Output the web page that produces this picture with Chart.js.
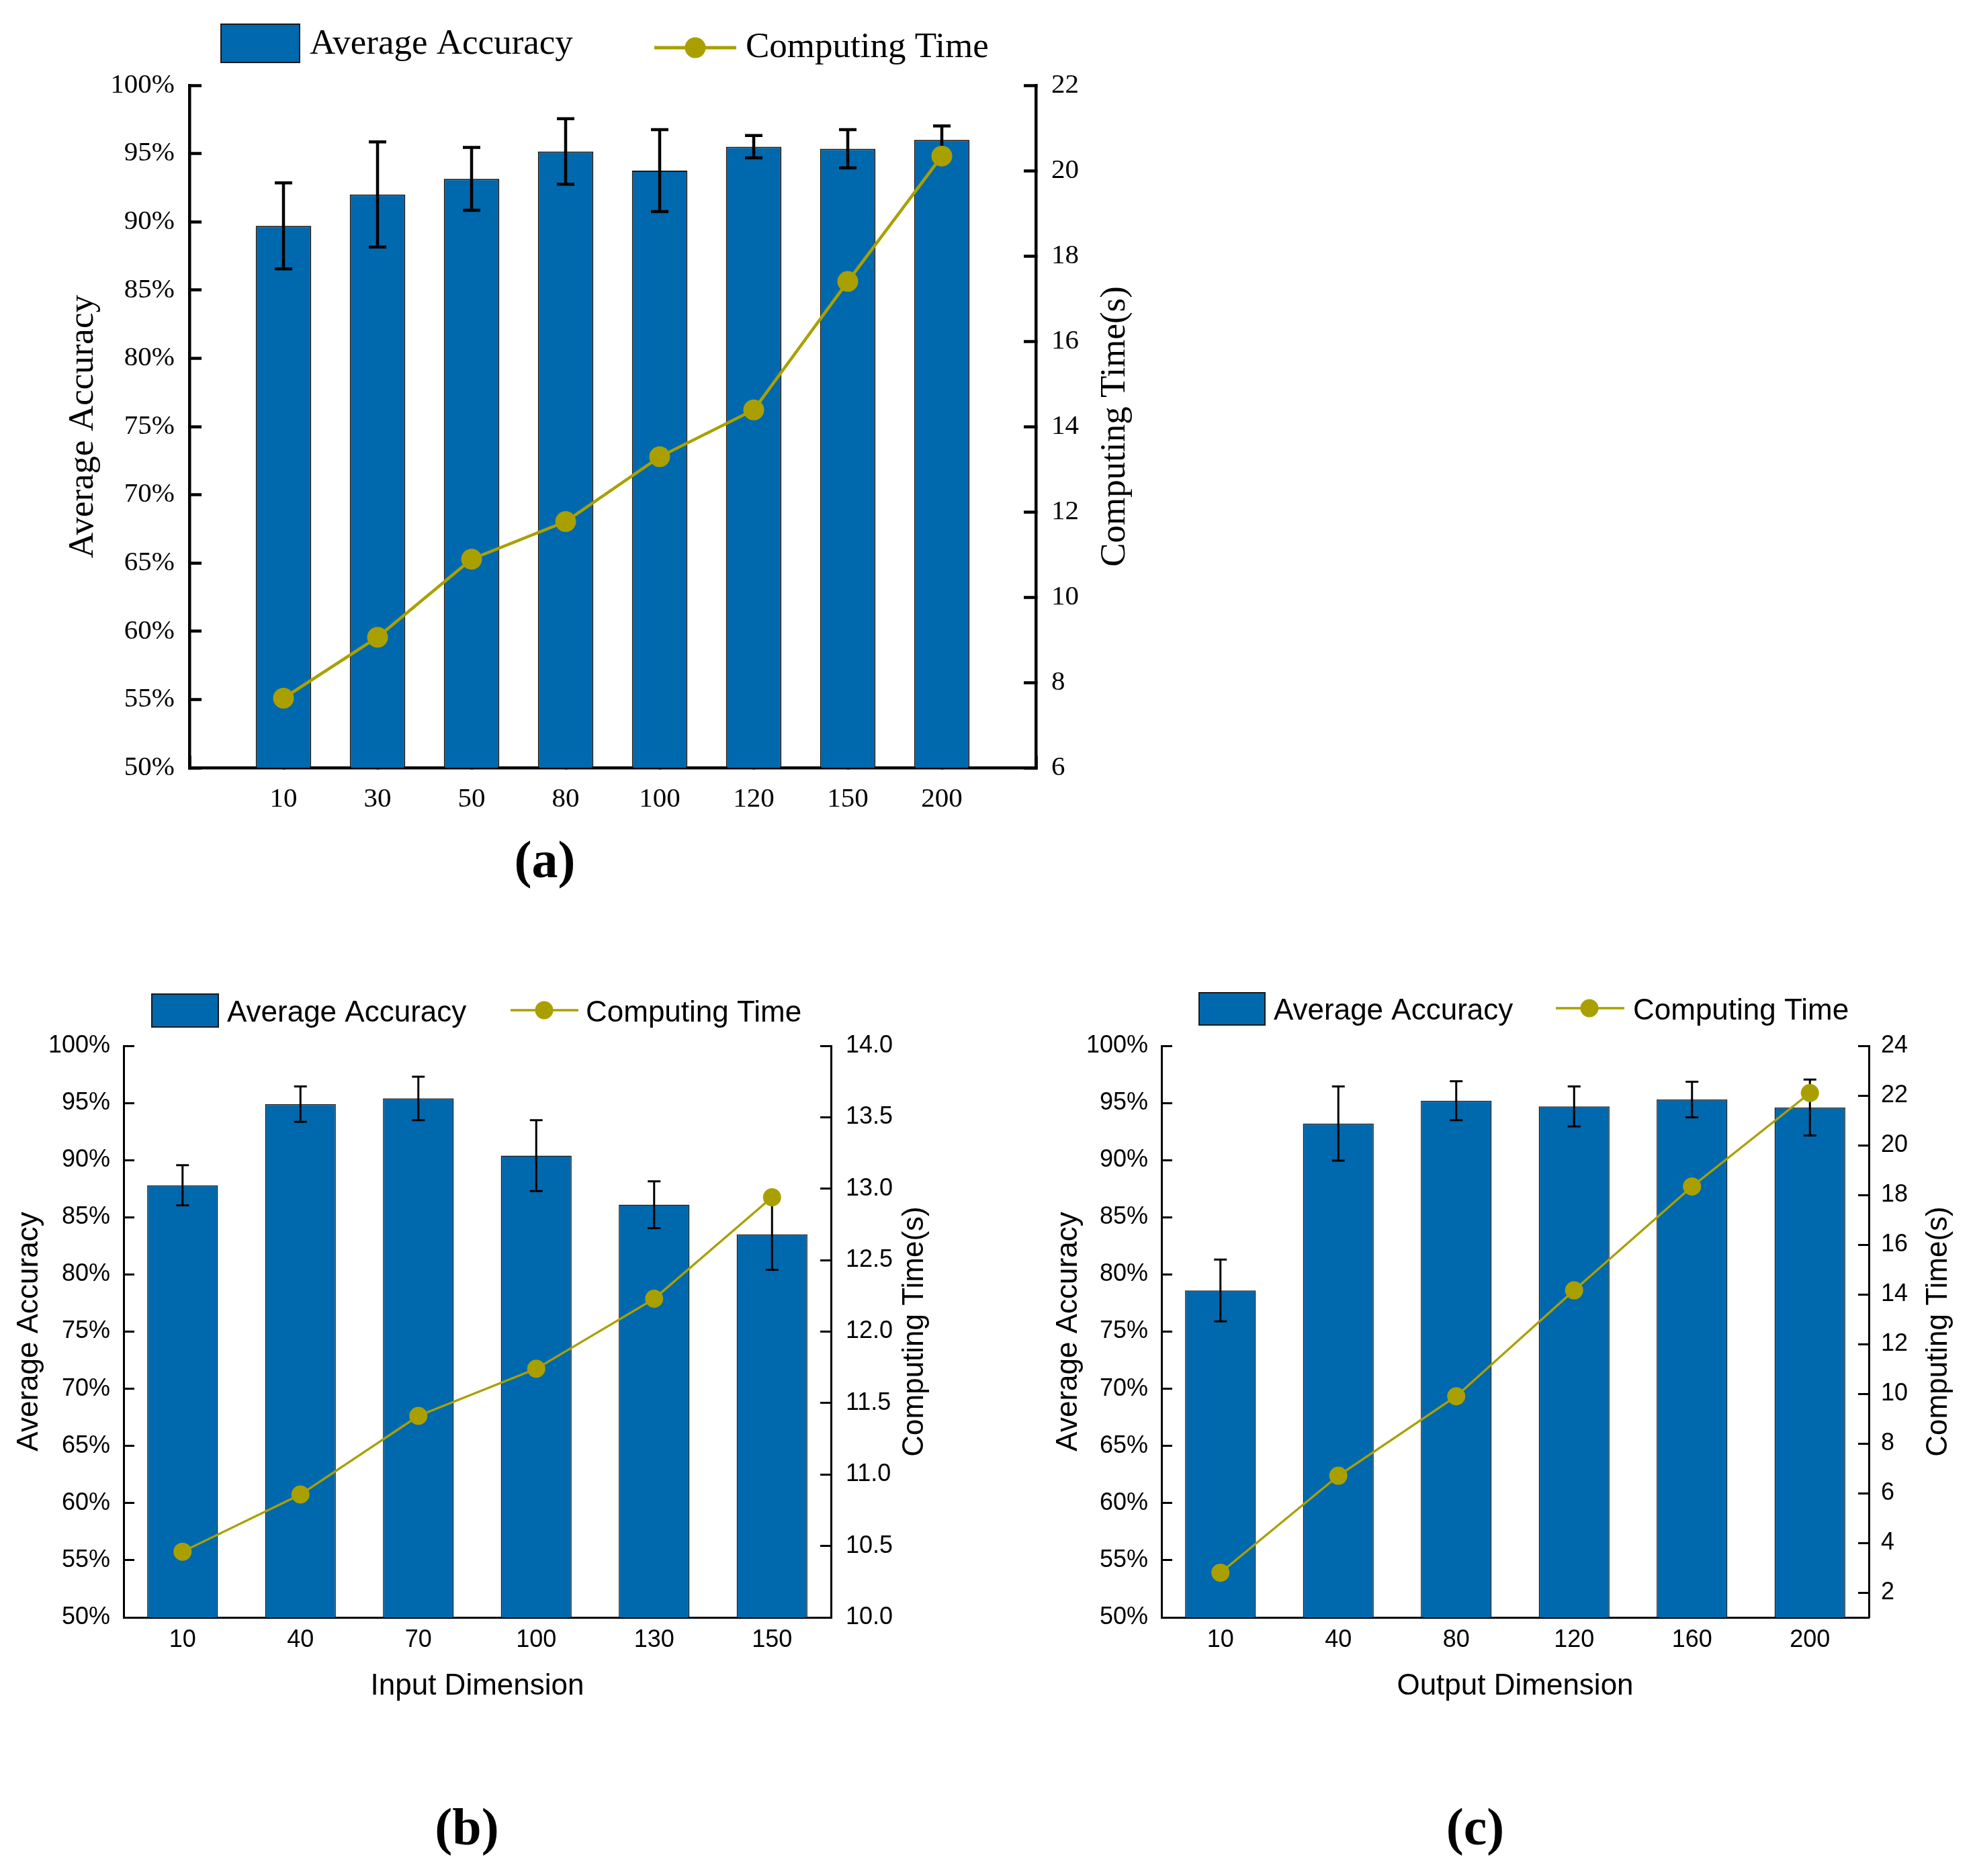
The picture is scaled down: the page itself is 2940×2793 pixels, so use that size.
<!DOCTYPE html>
<html>
<head>
<meta charset="utf-8">
<script src="https://cdn.jsdelivr.net/npm/chart.js@4.4.1/dist/chart.umd.min.js"></script>
<style>
  html, body { margin: 0; padding: 0; background: #fff; }
  body { position: relative; width: 2940px; height: 2793px; overflow: hidden; }
  canvas { position: absolute; }
  .tag { position: absolute; font: bold 78px "Liberation Serif", serif; line-height: 1; transform: translate(-50%, -50%); }
</style>
</head>
<body>
<canvas id="chartA" width="1760" height="1240" style="left:0;top:0"></canvas>
<canvas id="chartB" width="1500" height="1393" style="left:0;top:1400px"></canvas>
<canvas id="chartC" width="1440" height="1393" style="left:1500px;top:1400px"></canvas>
<div class="tag" style="left:811px;top:1280px">(a)</div>
<div class="tag" style="left:695px;top:2720px">(b)</div>
<div class="tag" style="left:2196px;top:2720px">(c)</div>
<script>
// (a) dimension sweep
var dimsA = ['10', '30', '50', '80', '100', '120', '150', '200'];
var accA = [89.7, 92.0, 93.15, 95.15, 93.75, 95.5, 95.35, 96.0];
var accErrA = [3.15, 3.85, 2.3, 2.4, 3.0, 0.82, 1.4, 1.02];
var timeA = [7.63, 9.06, 10.89, 11.77, 13.29, 14.39, 17.4, 20.34];
var timeTicksA = [6, 8, 10, 12, 14, 16, 18, 20, 22];

// (b) input dimension
var dimsB = ['10', '40', '70', '100', '130', '150'];
var accB = [87.8, 94.9, 95.4, 90.4, 86.1, 83.5];
var accErrB = [1.75, 1.55, 1.9, 3.1, 2.05, 3.1];
var timeB = [10.46, 10.86, 11.41, 11.74, 12.23, 12.94];
var timeTicksB = [10, 10.5, 11, 11.5, 12, 12.5, 13, 13.5, 14];

// (c) output dimension
var dimsC = ['10', '40', '80', '120', '160', '200'];
var accC = [78.6, 93.2, 95.2, 94.7, 95.3, 94.6];
var accErrC = [2.7, 3.25, 1.7, 1.75, 1.55, 2.45];
var timeC = [2.8, 6.7, 9.9, 14.16, 18.34, 22.1];
var timeTicksC = [2, 4, 6, 8, 10, 12, 14, 16, 18, 20, 22, 24];

var accTicks = [50, 55, 60, 65, 70, 75, 80, 85, 90, 95, 100];

var blue = '#0068AD';
var olive = '#A9A000';
var serif = '"Liberation Serif", "Times New Roman", serif';
var sans = '"Liberation Sans", Arial, sans-serif';

Chart.defaults.color = '#000';

// error bars on top of the bars, under the line
var errorBars = {
  id: 'errorBars',
  afterDatasetDraw: function (chart, args, opts) {
    var ds = chart.data.datasets[args.index];
    if (!ds.errors) return;
    var y = chart.scales[args.meta.yAxisID];
    var ctx = chart.ctx;
    ctx.save();
    ctx.strokeStyle = '#000';
    ctx.lineWidth = opts.width;
    args.meta.data.forEach(function (bar, i) {
      var v = ds.data[i];
      if (v === null || v === undefined) return;
      var top = y.getPixelForValue(v + ds.errors[i]);
      var bot = y.getPixelForValue(v - ds.errors[i]);
      ctx.beginPath();
      ctx.moveTo(bar.x, top); ctx.lineTo(bar.x, bot);
      ctx.moveTo(bar.x - opts.cap / 2, top); ctx.lineTo(bar.x + opts.cap / 2, top);
      ctx.moveTo(bar.x - opts.cap / 2, bot); ctx.lineTo(bar.x + opts.cap / 2, bot);
      ctx.stroke();
    });
    ctx.restore();
  }
};

// legend drawn by hand: big swatch + line-with-dot
var boxLegend = {
  id: 'boxLegend',
  afterDraw: function (chart, args, o) {
    var ctx = chart.ctx;
    var bar = chart.data.datasets[0], line = chart.data.datasets[1];
    ctx.save();
    ctx.fillStyle = bar.backgroundColor;
    ctx.fillRect(o.box[0], o.box[1], o.box[2], o.box[3]);
    ctx.strokeStyle = '#1a1a1a';
    ctx.lineWidth = 2;
    ctx.strokeRect(o.box[0], o.box[1], o.box[2], o.box[3]);
    ctx.strokeStyle = line.borderColor;
    ctx.lineWidth = o.lineWidth;
    ctx.beginPath();
    ctx.moveTo(o.line[0], o.line[2]); ctx.lineTo(o.line[1], o.line[2]);
    ctx.stroke();
    ctx.fillStyle = line.borderColor;
    ctx.beginPath();
    ctx.arc(o.marker[0], o.line[2], o.marker[1], 0, Math.PI * 2);
    ctx.fill();
    ctx.fillStyle = '#000';
    ctx.font = o.font;
    ctx.textBaseline = 'alphabetic';
    ctx.textAlign = 'left';
    ctx.fillText(bar.label, o.boxText[0], o.boxText[1]);
    ctx.fillText(line.label, o.lineText[0], o.lineText[1]);
    ctx.restore();
  }
};

// right axis title reads bottom-to-top like the left one
var sideTitle = {
  id: 'sideTitle',
  afterDraw: function (chart, args, o) {
    var a = chart.chartArea, ctx = chart.ctx;
    ctx.save();
    ctx.translate(a.right + o.offset, (a.top + a.bottom) / 2);
    ctx.rotate(-Math.PI / 2);
    ctx.font = o.font;
    ctx.fillStyle = '#000';
    ctx.textAlign = 'center';
    ctx.textBaseline = 'middle';
    ctx.fillText(o.text, 0, 0);
    ctx.restore();
  }
};

function comboChart(id, labels, acc, err, time, st) {
  var tickFont = { family: st.family, size: st.tickSize };
  var titleFont = { family: st.family, size: st.titleSize };
  var grid = { drawOnChartArea: false, offset: false, tickLength: -st.tick, tickWidth: st.axisW, tickColor: '#000' };
  var border = { color: '#000', width: st.axisW };
  return new Chart(document.getElementById(id), {
    type: 'bar',
    data: {
      labels: labels,
      datasets: [
        {
          type: 'bar', label: 'Average Accuracy', data: acc, errors: err, yAxisID: 'y', order: 2,
          backgroundColor: blue, borderColor: '#1a1a1a', borderWidth: st.barBorder,
          barPercentage: st.barPct, categoryPercentage: 1
        },
        {
          type: 'line', label: 'Computing Time', data: time, yAxisID: 'y1', order: 1,
          borderColor: olive, backgroundColor: olive, borderWidth: st.lineWidth, tension: 0,
          pointRadius: st.pointRadius, pointHoverRadius: st.pointRadius,
          pointBackgroundColor: olive, pointBorderWidth: 0
        }
      ]
    },
    options: {
      responsive: false,
      animation: false,
      layout: { padding: st.padding },
      plugins: {
        legend: { display: false },
        tooltip: { enabled: false },
        errorBars: { width: st.errW, cap: st.capW },
        boxLegend: st.legend,
        sideTitle: { text: 'Computing Time(s)', font: st.titleSize + 'px ' + st.family, offset: st.sideOffset }
      },
      scales: {
        x: {
          offset: st.xOffset,
          grid: grid,
          border: border,
          ticks: { font: tickFont, padding: st.xPad, maxRotation: 0, autoSkip: false },
          title: { display: !!st.xTitle, text: st.xTitle || '', font: titleFont, padding: { top: 0, bottom: st.xTitlePad } },
          afterFit: function (s) { s.height = st.xHeight; }
        },
        y: {
          position: 'left',
          min: 50,
          max: 100,
          afterBuildTicks: function (s) { s.ticks = accTicks.map(function (v) { return { value: v }; }); },
          grid: grid,
          border: border,
          ticks: { font: tickFont, padding: st.yPad, callback: function (v) { return v + '%'; } },
          title: { display: true, text: 'Average Accuracy', font: titleFont, padding: { top: st.yTitlePad, bottom: 0 } },
          afterFit: function (s) { s.width = st.yWidth; }
        },
        y1: {
          position: 'right',
          min: st.tMin,
          max: st.tMax,
          afterBuildTicks: function (s) { s.ticks = st.tTicks.map(function (v) { return { value: v }; }); },
          grid: grid,
          border: border,
          ticks: { font: tickFont, padding: st.y1Pad, callback: st.tFmt },
          afterFit: function (s) { s.width = st.y1Width; }
        }
      }
    },
    plugins: [errorBars, boxLegend, sideTitle]
  });
}

// (a): one empty slot at each end keeps a full category of space by the axes
comboChart('chartA', [''].concat(dimsA, ['']), [null].concat(accA, [null]), [null].concat(accErrA, [null]), [null].concat(timeA, [null]), {
  family: serif, tickSize: 41, titleSize: 53, axisW: 4.5, tick: 18,
  barBorder: 2, barPct: 0.59, lineWidth: 4.5, pointRadius: 15.5, errW: 4.5, capW: 26,
  padding: { left: 0, top: 127, right: 18, bottom: 17 },
  yWidth: 282, y1Width: 200, xHeight: 80,
  yPad: 40, y1Pad: 41, xPad: 41, yTitlePad: 92,
  xOffset: false, xTitle: null, xTitlePad: 0,
  tMin: 6, tMax: 22, tTicks: timeTicksA, tFmt: function (v) { return String(v); },
  sideOffset: 118,
  legend: { font: '53px ' + serif, box: [329, 36, 117, 57], boxText: [461, 80], line: [974, 1096, 71], marker: [1035, 15.5], lineText: [1110, 85], lineWidth: 5 }
});

comboChart('chartB', dimsB, accB, accErrB, timeB, {
  family: sans, tickSize: 36, titleSize: 44, axisW: 3, tick: 16,
  barBorder: 1.5, barPct: 0.6, lineWidth: 3.3, pointRadius: 13.5, errW: 3, capW: 19,
  padding: { left: 0, top: 157, right: 63, bottom: 245 },
  yWidth: 184, y1Width: 200, xHeight: 140,
  yPad: 36, y1Pad: 38, xPad: 28, yTitlePad: 17,
  xOffset: true, xTitle: 'Input Dimension', xTitlePad: 11,
  tMin: 10, tMax: 14, tTicks: timeTicksB, tFmt: function (v) { return v.toFixed(1); },
  sideOffset: 125,
  legend: { font: '44px ' + sans, box: [226, 80, 99, 49], boxText: [338, 121], line: [760, 861, 104], marker: [810, 13.5], lineText: [872, 121], lineWidth: 3.5 }
});

comboChart('chartC', dimsC, accC, accErrC, timeC, {
  family: sans, tickSize: 36, titleSize: 44, axisW: 3, tick: 16,
  barBorder: 1.5, barPct: 0.6, lineWidth: 3.3, pointRadius: 13.5, errW: 3, capW: 19,
  padding: { left: 0, top: 157, right: 38, bottom: 245 },
  yWidth: 229, y1Width: 120, xHeight: 140,
  yPad: 36, y1Pad: 34, xPad: 28, yTitlePad: 64,
  xOffset: true, xTitle: 'Output Dimension', xTitlePad: 11,
  tMin: 1, tMax: 24, tTicks: timeTicksC, tFmt: function (v) { return String(v); },
  sideOffset: 104,
  legend: { font: '44px ' + sans, box: [285, 78, 98, 48], boxText: [396, 118], line: [816, 918, 101], marker: [866, 13.5], lineText: [931, 118], lineWidth: 3.5 }
});
</script>
</body>
</html>
